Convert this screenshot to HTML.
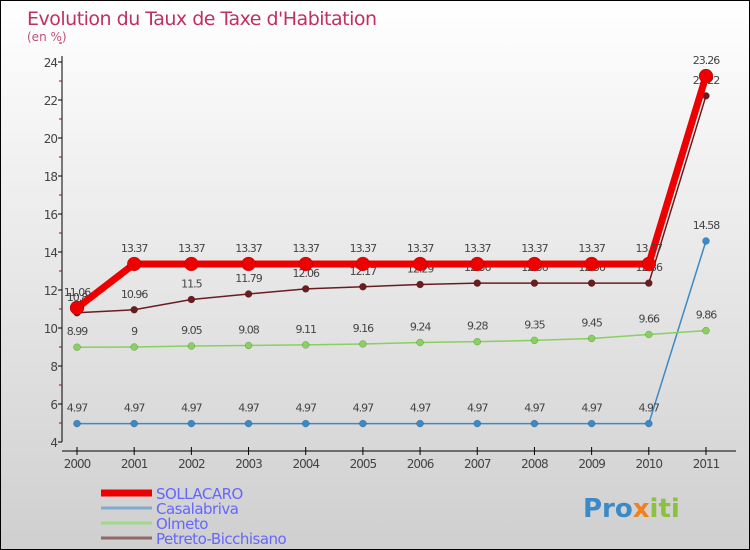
<!DOCTYPE html>
<html><head><meta charset="utf-8"><style>
body{margin:0}
#c{position:relative;width:750px;height:550px;box-sizing:border-box;border:1px solid #000;background:linear-gradient(#ffffff,#cfcfcf);font-family:"DejaVu Sans","Liberation Sans",sans-serif;overflow:hidden}
text{font-family:"DejaVu Sans","Liberation Sans",sans-serif}
</style></head><body>
<div id="c">
<svg id="s" width="750" height="550">
<text x="26" y="24" font-size="19" fill="#c0305f" letter-spacing="-0.5">Evolution du Taux de Taxe d'Habitation</text>
<text x="26" y="40" font-size="12" fill="#c0507f">(en %)</text>
<g id="g"></g>
</svg>
</div>
<script>
const years=[2000,2001,2002,2003,2004,2005,2006,2007,2008,2009,2010,2011];
const sollacaro=[11.06,13.37,13.37,13.37,13.37,13.37,13.37,13.37,13.37,13.37,13.37,23.26];
const casalabriva=[4.97,4.97,4.97,4.97,4.97,4.97,4.97,4.97,4.97,4.97,4.97,14.58];
const olmeto=[8.99,9,9.05,9.08,9.11,9.16,9.24,9.28,9.35,9.45,9.66,9.86];
const petreto=[10.8,10.96,11.5,11.79,12.06,12.17,12.29,12.36,12.36,12.36,12.36,22.22];
const yTicks=[4,6,8,10,12,14,16,18,20,22,24];
const NS="http://www.w3.org/2000/svg";
const g=document.getElementById('g');
const X=i=>76+i*57.18, Y=v=>441-(v-4)*19;
function el(t,a,p){const e=document.createElementNS(NS,t);for(const k in a)e.setAttribute(k,a[k]);(p||g).appendChild(e);return e;}
let e=el('line',{x1:61,y1:55,x2:61,y2:441,stroke:'#000'});

e=el('line',{x1:61,y1:450,x2:735,y2:450,stroke:'#000'});

yTicks.forEach(v=>{
 el('line',{x1:57,y1:Y(v),x2:61,y2:Y(v),stroke:'#000'});
 el('line',{x1:58,y1:Y(v+1),x2:61,y2:Y(v+1),stroke:'#c00'});
 const t=el('text',{x:56,y:Y(v)+5,'text-anchor':'end','font-size':12,fill:'#444','letter-spacing':'-1'});t.textContent=v;
 
});
years.forEach((y,i)=>{
 el('line',{x1:X(i),y1:446,x2:X(i),y2:454,stroke:'#000'});
 const t=el('text',{x:X(i),y:467,'text-anchor':'middle','font-size':12,fill:'#444','letter-spacing':'-1'});t.textContent=y;
 
});
function series(d,col,w,r,name,labels){
 const p=el('polyline',{points:d.map((v,i)=>X(i)+','+Y(v)).join(' '),fill:'none',stroke:col,'stroke-width':w,'stroke-linejoin':'round'});
 
 d.forEach((v,i)=>{
  const c=el('circle',{cx:X(i),cy:Y(v),r:r,fill:col,stroke:'rgba(0,0,0,0.3)','stroke-width':0.5});
  
  if(labels){const t=el('text',{x:X(i),y:Y(v)-12,'text-anchor':'middle','font-size':11,fill:'#444','letter-spacing':'-1'});t.textContent=v;
  }
 });
}
series(casalabriva,'#3a8ac8',1.5,3.5,'casalabriva',true);
series(olmeto,'#88d060',1.5,3.5,'olmeto',true);
series(petreto,'#6a1c20',1.5,3.5,'petreto-bicchisano',true);
series(sollacaro,'#ee0000',7,7,'sollacaro',true);
const legend=[['SOLLACARO','#ee0000',7],['Casalabriva','#80acd0',3],['Olmeto','#a0d888',3],['Petreto-Bicchisano','#906868',3]];
legend.forEach((l,i)=>{
 const y=492+i*15;
 const ln=el('line',{x1:100,y1:y,x2:151,y2:y,stroke:l[1],'stroke-width':l[2]});
 
 const t=el('text',{x:155,y:y+6,'font-size':15,fill:'#6666ff','letter-spacing':'-0.5'});t.textContent=l[0];
 
});
const lg=el('text',{x:582,y:516,'font-size':26,'font-weight':'bold',fill:'#3a9ad8'});
lg.innerHTML='<tspan fill="#3a8ac8">Pro</tspan><tspan fill="#f08020">x</tspan><tspan fill="#8cc040">iti</tspan>';

</script>
</body></html>
